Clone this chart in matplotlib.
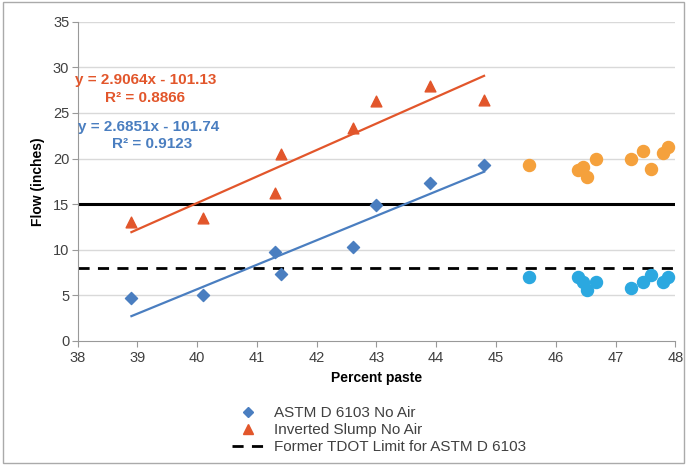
import matplotlib
matplotlib.use("Agg")
import matplotlib.pyplot as plt
from matplotlib.lines import Line2D
import numpy as np

plt.rcParams['font.family'] = ['Liberation Sans', 'DejaVu Sans']

# Data
astm_x = [38.9, 40.1, 41.3, 41.4, 42.6, 43.0, 43.9, 44.8]
astm_y = [4.7, 5.0, 9.8, 7.3, 10.3, 14.9, 17.3, 19.3]
inv_x = [38.9, 40.1, 41.3, 41.4, 42.6, 43.0, 43.9, 44.8]
inv_y = [13.0, 13.5, 16.2, 20.5, 23.4, 26.3, 28.0, 26.4]
air_inv_x = [45.56, 46.37, 46.45, 46.52, 46.67, 47.26, 47.46, 47.59, 47.80, 47.87]
air_inv_y = [19.3, 18.8, 19.1, 18.0, 19.9, 20.0, 20.8, 18.9, 20.6, 21.3]
air_astm_x = [45.56, 46.37, 46.45, 46.52, 46.67, 47.26, 47.46, 47.59, 47.80, 47.87]
air_astm_y = [7.05, 7.05, 6.5, 5.6, 6.5, 5.8, 6.5, 7.2, 6.5, 7.05]
fit_astm = (2.6851, -101.74)
fit_inv = (2.9064, -101.13)
limit_new = 15
limit_old = 8
xticks = list(range(38, 49))
yticks = list(range(0, 36, 5))

blue = '#4A7EC0'
orange = '#E2562B'
lblue = '#2BA8E0'
lorange = '#F5A13C'

fig = plt.figure(figsize=(6.87, 4.65), dpi=100)
ax = fig.add_axes([0.113, 0.267, 0.870, 0.686])

for y in yticks[1:]:
    ax.axhline(y, color='#D9D9D9', lw=1, zorder=0)

ax.axhline(limit_new, color='black', lw=2.2, zorder=2)
ax.axhline(limit_old, color='black', lw=2, ls=(0, (4, 3)), zorder=2)

xf = np.array([min(astm_x), max(astm_x)])
ax.plot(xf, fit_astm[0] * xf + fit_astm[1], color=blue, lw=1.6, zorder=3)
xf2 = np.array([min(inv_x), max(inv_x)])
ax.plot(xf2, fit_inv[0] * xf2 + fit_inv[1], color=orange, lw=1.6, zorder=3)

ax.scatter(astm_x, astm_y, marker='D', s=38, color=blue, zorder=4)
ax.scatter(inv_x, inv_y, marker='^', s=60, color=orange, zorder=4)
ax.scatter(air_inv_x, air_inv_y, marker='o', s=75, color=lorange, zorder=4)
ax.scatter(air_astm_x, air_astm_y, marker='o', s=75, color=lblue, zorder=4)

tk = dict(fontsize=11, fontweight='bold', va='center', clip_on=False)
ax.text(37.95, 28.6, 'y = 2.9064x - 101.13', color=orange, **tk)
ax.text(38.45, 26.6, 'R² = 0.8866', color=orange, **tk)
ax.text(38.0, 23.5, 'y = 2.6851x - 101.74', color=blue, **tk)
ax.text(38.57, 21.6, 'R² = 0.9123', color=blue, **tk)

ax.set_xlim(38, 48)
ax.set_ylim(0, 35)
ax.set_xticks(xticks)
ax.set_yticks(yticks)
ax.tick_params(labelsize=10.5, color='#999999', length=4, labelcolor='#404040')
ax.tick_params(axis='x', direction='out')
ax.tick_params(axis='y', pad=2)
for s in ['top', 'right']:
    ax.spines[s].set_visible(False)
for s in ['left', 'bottom']:
    ax.spines[s].set_color('#999999')
ax.set_xlabel('Percent paste', fontsize=10, fontweight='bold', labelpad=4)
ax.set_ylabel('Flow (inches)', fontsize=10, fontweight='bold', labelpad=6)

handles = [
    Line2D([], [], marker='D', color=blue, ls='none', markersize=5),
    Line2D([], [], marker='^', color=orange, ls='none', markersize=7),
    Line2D([], [], color='black', lw=2, ls=(0, (4, 3))),
]
labels = ['ASTM D 6103 No Air', 'Inverted Slump No Air', 'Former TDOT Limit for ASTM D 6103']
fig.legend(handles, labels, loc='upper left', bbox_to_anchor=(0.327, 0.143), frameon=False,
           fontsize=11, handlelength=2.0, labelspacing=0.2, borderpad=0, handletextpad=0.7,
           labelcolor='#404040')

border = plt.Rectangle((0.004, 0.004), 0.992, 0.992, transform=fig.transFigure,
                       fill=False, edgecolor='#AAAAAA', lw=1)
fig.patches.append(border)

fig.savefig('out.png', dpi=100)
